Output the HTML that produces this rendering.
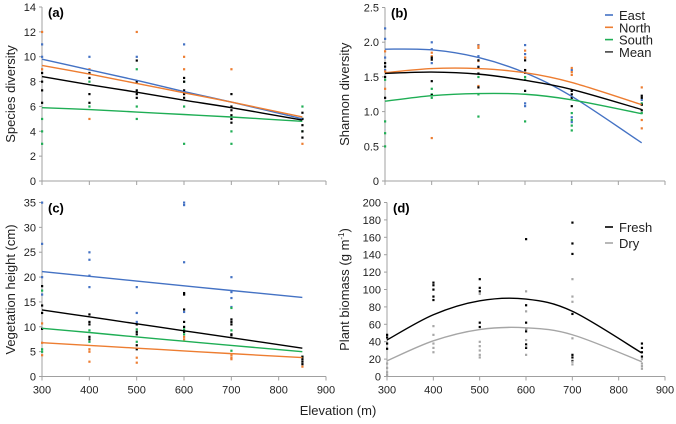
<!DOCTYPE html>
<html><head><meta charset="utf-8">
<style>
body{margin:0;background:#fff;}
svg{display:block;font-family:"Liberation Sans",Arial,sans-serif;}
</style></head>
<body>
<svg id="c" width="676" height="424" viewBox="0 0 676 424"></svg>
<script>
const NS="http://www.w3.org/2000/svg";
const svg=document.getElementById('c');
const elev=[300,400,500,600,700,850];
const xTicks=[300,400,500,600,700,800,900];
const C={east:"#4472c4",north:"#ed7d31",south:"#1fae55",mean:"#000000",fresh:"#000000",dry:"#a6a6a6"};

// Panel (a) species diversity
const aTicks=[0,2,4,6,8,10,12,14];
const aEast=[9.8,8.95,8.1,7.2,6.35,5.0];
const aNorth=[9.3,8.6,7.85,7.1,6.35,5.15];
const aSouth=[5.9,5.75,5.55,5.35,5.15,4.8];
const aMean=[8.4,7.75,7.15,6.5,5.9,4.9];
const aPtsEast=[[11,10],[10],[10],[11],[],[]];
const aPtsNorth=[[12,9],[9,5],[12],[10,9],[9],[3]];
const aPtsSouth=[[5,4,3],[8,6],[9,6,5],[8,6,3],[4,3],[6,5,4]];
const aPtsMean=[[8.7,8,7.3,6.3],[8.7,8.3,7,6.3],[9.7,8,7.3,7,6.7],[8.3,8,7.3,7,6.7],[7,6,5.7,5.3,5,4.7],[5.5,5,4.5,4,3.5]];

// Panel (b) Shannon diversity
const bTicks=[0,0.5,1.0,1.5,2.0,2.5];
const bTickLabels=["0","0.5","1.0","1.5","2.0","2.5"];
const bEast=[1.9,1.89,1.78,1.56,1.22,0.55];
const bNorth=[1.56,1.62,1.62,1.56,1.42,1.1];
const bSouth=[1.15,1.23,1.26,1.25,1.17,0.97];
const bMean=[1.55,1.57,1.54,1.45,1.32,1.03];
const bPtsEast=[[2.2,2.05,1.78,1.6],[2.0,1.9,1.7],[1.96,1.8,1.65],[1.96,1.83,1.78,1.12,1.08],[1.6,0.92,0.85],[1.17]];
const bPtsNorth=[[1.87,1.58,1.33],[1.85,1.8,0.62],[1.95,1.92,1.73,1.37],[1.88,1.78,1.6],[1.63,1.57,1.53],[1.35,0.88,0.76]];
const bPtsSouth=[[1.46,0.86,0.69,0.5],[1.33,1.2,1.25],[1.5,1.25,0.93],[1.5,1.46,0.86],[0.98,0.88,0.8,0.73],[1.12,0.98]];
const bPtsMean=[[1.7,1.65,1.5,1.2],[1.78,1.75,1.44,1.24],[1.74,1.64,1.55,1.35],[1.74,1.6,1.56,1.3],[1.3,1.25,1.2,1.08],[1.23,1.2,1.1,1.02]];

// Panel (c) vegetation height
const cTicks=[0,5,10,15,20,25,30,35];
const cEast=[21.1,20.15,19.2,18.25,17.3,15.9];
const cNorth=[6.8,6.25,5.7,5.15,4.6,3.8];
const cSouth=[9.7,8.85,7.95,7.1,6.25,5.0];
const cMean=[13.4,12.0,10.6,9.2,7.8,5.7];
const cPtsEast=[[35,26.7,20,16.5],[25,23.5,20.3,18],[18,12.8,11],[35,34.5,23,13],[20,17,15.8,14],[]];
const cPtsNorth=[[10.7,6.8,4.3],[5.5,5,3],[3.8,2.8],[8,7.5],[4.3,3.8,3.5],[2]];
const cPtsSouth=[[17.3,5.5,5],[9.3,7],[9.5,7],[9.5,8.5],[13.8,9.3,5.2],[4]];
const cPtsMean=[[18.2,14.3,12.8,9.6],[12.5,11,10.5,8,7.5],[10.5,9,8.5,6.3,5.5],[16.8,16.5,13.5,11,10,9],[11.5,11,10.5,8.5,8.3],[4,3.5,3,2.5]];

// Panel (d) plant biomass
const dTicks=[0,20,40,60,80,100,120,140,160,180,200];
const dFresh=[42,71,87,89,75,27];
const dDry=[18,41,54,56,48,17];
const dPtsFresh=[[48,45,38,32],[108,105,100,92,88],[112,102,98,62,57],[158,82,62,55,52,37,33],[177,153,141,72,25,22,18],[38,33,28,23]];
const dPtsDry=[[15,10,5,2],[58,48,38,33,28],[95,40,35,30,25,22],[98,75,55,42,35,25],[112,92,86,44,17,14],[20,15,12,9]];

function el(tag,attrs,parent){const e=document.createElementNS(NS,tag);for(const k in attrs)e.setAttribute(k,attrs[k]);(parent||svg).appendChild(e);return e;}

function panel(cfg){
  const g=el('g',{});
  
  
  const sx=v=>cfg.x0+(v-300)/600*(cfg.x1-cfg.x0);
  const ymax=cfg.ticks[cfg.ticks.length-1];
  const sy=v=>cfg.y0-v/ymax*(cfg.y0-cfg.yTop);
  // axes
  const ax=el('line',{x1:cfg.x0,y1:cfg.yTop,x2:cfg.x0,y2:cfg.y0,stroke:'#a0a0a0','stroke-width':1},g);
  
  const axx=el('line',{x1:cfg.x0,y1:cfg.y0,x2:cfg.x1,y2:cfg.y0,stroke:'#a0a0a0','stroke-width':1},g);
  
  cfg.ticks.forEach((t,i)=>{
    el('line',{x1:cfg.x0-3,x2:cfg.x0,y1:sy(t),y2:sy(t),stroke:'#a0a0a0'},g);
    const tx=el('text',{x:cfg.x0-6,y:sy(t)+4,'font-size':11,'text-anchor':'end',fill:'#222'},g);
    tx.textContent=cfg.labels?cfg.labels[i]:String(t);
    
  });
  xTicks.forEach(t=>{
    el('line',{x1:sx(t),x2:sx(t),y1:cfg.y0,y2:cfg.y0+4,stroke:'#a0a0a0'},g);
    if(cfg.xLabels){
      const tx=el('text',{x:sx(t),y:cfg.y0+17,'font-size':11,'text-anchor':'middle',fill:'#222'},g);
      tx.textContent=String(t);
      
    }
  });
  // points
  cfg.series.forEach(s=>{
    s.pts.forEach((arr,i)=>arr.forEach(v=>{
      const r=el('rect',{x:sx(elev[i])-1,y:sy(v)-1,width:2.2,height:2.2,fill:s.color},g);
      
      
    }));
  });
  // lines (smooth)
  cfg.series.forEach(s=>{
    const P=s.line.map((v,i)=>[sx(elev[i]),sy(v)]);
    let d='M'+P[0][0]+','+P[0][1];
    for(let i=0;i<P.length-1;i++){
      const p0=P[Math.max(0,i-1)],p1=P[i],p2=P[i+1],p3=P[Math.min(P.length-1,i+2)];
      const c1=[p1[0]+(p2[0]-p0[0])/6,p1[1]+(p2[1]-p0[1])/6];
      const c2=[p2[0]-(p3[0]-p1[0])/6,p2[1]-(p3[1]-p1[1])/6];
      d+=` C${c1[0]},${c1[1]} ${c2[0]},${c2[1]} ${p2[0]},${p2[1]}`;
    }
    const p=el('path',{d:d,fill:'none',stroke:s.color,'stroke-width':1.4},g);
    
    
  });
  const lab=el('text',{x:cfg.x0+6,y:cfg.yTop+10,'font-size':13,'font-weight':'bold',fill:'#000'},g);
  lab.textContent=cfg.tag;
  
  const yt=el('text',{x:0,y:0,'font-size':13,'text-anchor':'middle',fill:'#222',transform:`translate(${cfg.titleX},${(cfg.yTop+cfg.y0)/2}) rotate(-90)`},g);
  yt.innerHTML=cfg.title;
  
}

panel({name:'panel-a-species-diversity',tag:'(a)',x0:42,x1:326,y0:181,yTop:7,ticks:aTicks,titleX:15,title:'Species diversity',
  series:[{key:'east',color:C.east,line:aEast,pts:aPtsEast},{key:'north',color:C.north,line:aNorth,pts:aPtsNorth},{key:'south',color:C.south,line:aSouth,pts:aPtsSouth},{key:'mean',color:C.mean,line:aMean,pts:aPtsMean}]});
panel({name:'panel-b-shannon-diversity',tag:'(b)',x0:385,x1:665,y0:181,yTop:7.5,ticks:bTicks,labels:bTickLabels,titleX:349,title:'Shannon diversity',
  series:[{key:'east',color:C.east,line:bEast,pts:bPtsEast},{key:'north',color:C.north,line:bNorth,pts:bPtsNorth},{key:'south',color:C.south,line:bSouth,pts:bPtsSouth},{key:'mean',color:C.mean,line:bMean,pts:bPtsMean}]});
panel({name:'panel-c-vegetation-height',tag:'(c)',x0:42,x1:326,y0:376.5,yTop:202.5,ticks:cTicks,xLabels:true,titleX:15,title:'Vegetation height (cm)',
  series:[{key:'east',color:C.east,line:cEast,pts:cPtsEast},{key:'north',color:C.north,line:cNorth,pts:cPtsNorth},{key:'south',color:C.south,line:cSouth,pts:cPtsSouth},{key:'mean',color:C.mean,line:cMean,pts:cPtsMean}]});
panel({name:'panel-d-plant-biomass',tag:'(d)',x0:387,x1:665,y0:376.5,yTop:202.5,ticks:dTicks,xLabels:true,titleX:349,title:'Plant biomass (g m<tspan dy="-5" font-size="8">-1</tspan><tspan dy="5">)</tspan>',
  series:[{key:'fresh',color:C.fresh,line:dFresh,pts:dPtsFresh},{key:'dry',color:C.dry,line:dDry,pts:dPtsDry}]});

// legends
function legend(items,x,y,step,name){
  const g=el('g',{});
  
  
  items.forEach((it,i)=>{
    el('line',{x1:x,x2:x+8,y1:y+i*step,y2:y+i*step,stroke:it[1],'stroke-width':1.6},g);
    const t=el('text',{x:x+14,y:y+i*step+5,'font-size':13,fill:'#222'},g);
    t.textContent=it[0];
    
    
  });
}
legend([['East',C.east],['North',C.north],['South',C.south],['Mean','#444']],605,15,12.3,'legend-aspect');
legend([['Fresh',C.fresh],['Dry',C.dry]],605,227,16,'legend-biomass');

const xt=el('text',{x:338,y:415,'font-size':13,'text-anchor':'middle',fill:'#222'});
xt.textContent='Elevation (m)';


</script>
</body></html>
